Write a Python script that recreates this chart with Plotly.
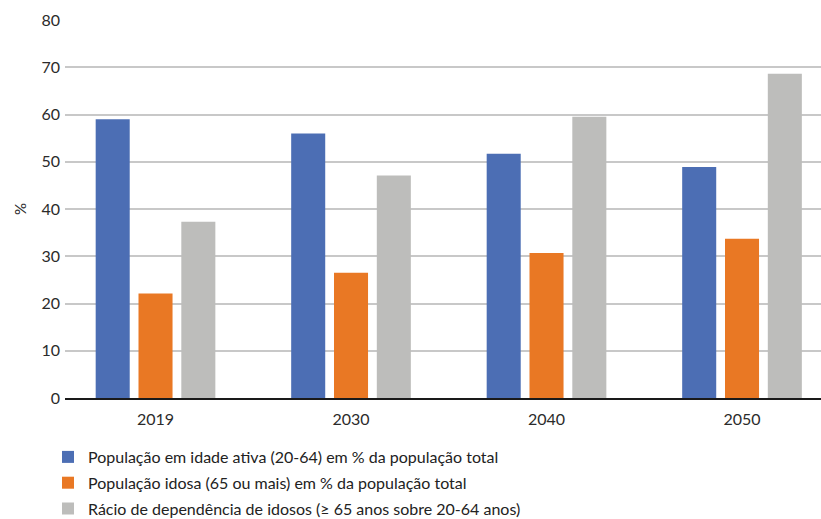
import plotly.graph_objects as go

years = ["2019", "2030", "2040", "2050"]
working_age = [59.0, 56.0, 51.7, 48.9]
elderly = [22.1, 26.5, 30.7, 33.7]
dependency = [37.3, 47.1, 59.5, 68.6]
names = [
    "População em idade ativa (20-64) em % da população total",
    "População idosa (65 ou mais) em % da população total",
    "Rácio de dependência de idosos (≥ 65 anos sobre 20-64 anos)",
]
y_title = "%"
colors = ["#4c6eb4", "#e97824", "#bdbdbb"]

fig = go.Figure()
for i, (vals, nm, c) in enumerate(zip([working_age, elderly, dependency], names, colors)):
    fig.add_trace(go.Bar(x=years, y=vals, name=nm, marker=dict(color=c, line=dict(width=0)),
                         legendgroup=str(i)))

font = "Lato, 'Open Sans', sans-serif"
fig.update_layout(
    width=821, height=519,
    margin=dict(l=65, r=0, t=20, b=121, autoexpand=False),
    paper_bgcolor="white", plot_bgcolor="white",
    barmode="group", bargap=0.343, bargroupgap=0.205,
    font=dict(family=font, size=16, color="#2b2b2b"),
    xaxis=dict(type="category", range=[-0.463, 3.404], showgrid=False,
               showline=True, linecolor="#1a1a1a", linewidth=1.5,
               ticks="", tickfont=dict(size=16, color="#2b2b2b"), ticklabelstandoff=6),
    yaxis=dict(range=[0, 80], dtick=10, showgrid=True, gridcolor="#c8c8c8", gridwidth=1.5,
               zeroline=False, showline=False, ticks="", tickfont=dict(size=16, color="#2b2b2b"),
               ticklabelstandoff=4),
    legend=dict(x=48 / 821, y=1 - 440 / 519, xref="container", yref="container",
                xanchor="left", yanchor="top",
                orientation="v", font=dict(size=16, color="#222222"), tracegroupgap=2,
                bgcolor="rgba(0,0,0,0)"),
    showlegend=True,
    annotations=[dict(text=y_title, textangle=-90, xref="paper", yref="paper",
                      x=-45 / 756, y=0.5, xanchor="center", yanchor="middle",
                      showarrow=False, font=dict(size=15, color="#2b2b2b"))],
)
fig.write_html("out.html")
